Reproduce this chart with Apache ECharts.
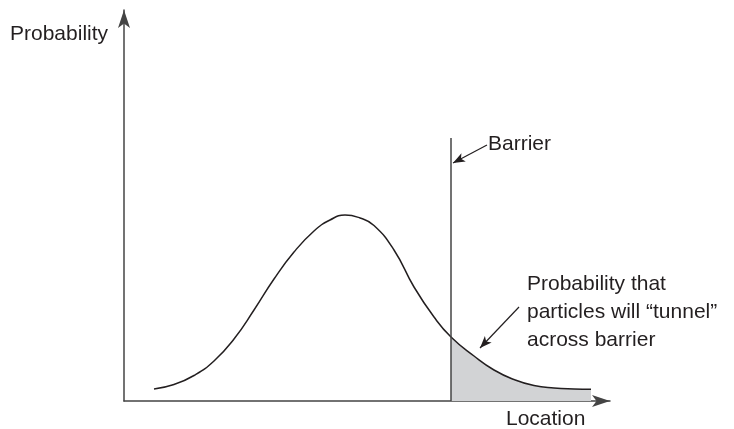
<!DOCTYPE html>
<html>
<head>
<meta charset="utf-8">
<script src="https://cdn.jsdelivr.net/npm/echarts@6/dist/echarts.min.js"></script>
<style>
  html, body { margin: 0; padding: 0; background: #fff; }
  #chart { width: 734px; height: 429px; }
</style>
</head>
<body>
<div id="chart"></div>
<script>
// Wave-packet probability along the location axis (arbitrary units)
const positions = [30, 50, 70, 90, 110, 130, 150, 170, 190, 206, 221, 236, 250, 270, 290, 310, 327, 350, 370, 390, 410, 430, 450, 467];
const probability = [12, 16.5, 25.5, 40, 62, 91, 122, 149, 170, 181, 186, 183, 175.5, 151, 114, 84, 64, 45, 31, 21.5, 15.5, 13, 12, 11.7];

// Barrier position and height
const barrierX = 327;
const barrierTop = 263;

// Annotation arrows: [start, end] in data units
const barrierArrow = [[363, 256], [329, 238]];
const tunnelArrow = [[395, 94], [356, 53]];

const curve = positions.map((x, i) => [x, probability[i]]);
const tunnelled = curve.filter(p => p[0] >= barrierX);

const FONT = '"Liberation Sans", Arial, sans-serif';
const INK = '#231f20';
const TEXT_SIZE = 21;

function label(x, y, text) {
  return {
    type: 'text', x: x, y: y,
    style: { text: text, font: TEXT_SIZE + 'px ' + FONT, fill: INK, verticalAlign: 'middle', align: 'left' }
  };
}

const chart = echarts.init(document.getElementById('chart'), null, { renderer: 'canvas' });
chart.setOption({
  backgroundColor: '#ffffff',
  animation: false,
  grid: { left: 124, right: 124, top: 10, bottom: 28, containLabel: false },
  xAxis: {
    type: 'value', min: 0, max: 486,
    axisLine: { show: true, symbol: ['none', 'arrow'], symbolSize: [9, 18], symbolOffset: [0, 0],
      lineStyle: { color: '#444', width: 1.5 } },
    axisTick: { show: false }, axisLabel: { show: false }, splitLine: { show: false }
  },
  yAxis: {
    type: 'value', min: 0, max: 391,
    axisLine: { show: true, symbol: ['none', 'arrow'], symbolSize: [9, 18], symbolOffset: [0, 0],
      lineStyle: { color: '#444', width: 1.5 } },
    axisTick: { show: false }, axisLabel: { show: false }, splitLine: { show: false }
  },
  series: [
    {
      // shaded tail beyond the barrier
      type: 'line', data: tunnelled, smooth: 0.5, symbol: 'none',
      lineStyle: { width: 0 }, areaStyle: { color: '#d2d3d5', opacity: 1 }, z: 1
    },
    {
      type: 'line', data: curve, smooth: 0.5, symbol: 'none',
      lineStyle: { color: INK, width: 1.5 }, z: 3,
      markLine: {
        silent: true, animation: false, symbol: ['none', 'none'],
        label: { show: false },
        lineStyle: { color: '#444', width: 1.5, type: 'solid' },
        data: [
          [{ coord: [barrierX, 0] }, { coord: [barrierX, barrierTop] }],
          [{ coord: barrierArrow[0], symbol: 'none' }, { coord: barrierArrow[1], symbol: 'arrow', symbolSize: [7, 12], lineStyle: { color: INK, width: 1.2 } }],
          [{ coord: tunnelArrow[0], symbol: 'none' }, { coord: tunnelArrow[1], symbol: 'arrow', symbolSize: [7, 12], lineStyle: { color: INK, width: 1.2 } }]
        ]
      }
    }
  ],
  graphic: [
    label(10, 34, 'Probability'),
    label(488, 144, 'Barrier'),
    label(506, 419, 'Location'),
    {
      type: 'text', x: 527, y: 312,
      style: {
        text: 'Probability that\nparticles will \u201ctunnel\u201d\nacross barrier',
        font: TEXT_SIZE + 'px ' + FONT, fill: INK, lineHeight: 28, verticalAlign: 'middle', align: 'left'
      }
    }
  ]
});
</script>
</body>
</html>
